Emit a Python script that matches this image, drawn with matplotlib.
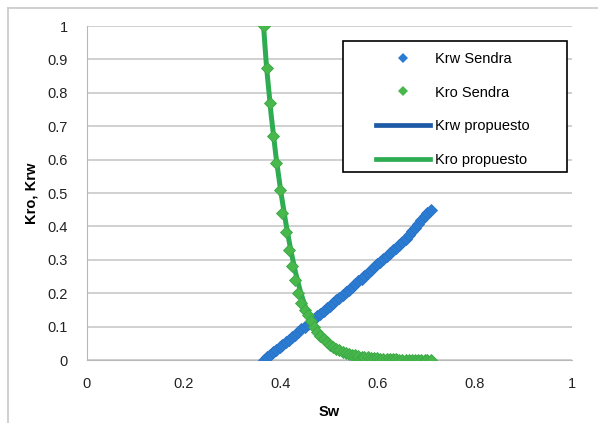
import matplotlib
matplotlib.use("Agg")
import matplotlib.pyplot as plt
from matplotlib.lines import Line2D
from matplotlib.patches import Rectangle

plt.rcParams['font.family'] = ['Liberation Sans', 'DejaVu Sans']

# Sendra data (points)
sw_sendra = [0.364, 0.371, 0.377, 0.384, 0.390, 0.397, 0.403, 0.410, 0.416, 0.423,
             0.429, 0.436, 0.442, 0.449, 0.455, 0.462, 0.468, 0.475, 0.481, 0.488,
             0.494, 0.501, 0.507, 0.514, 0.520, 0.527, 0.533, 0.540, 0.546, 0.553,
             0.559, 0.566, 0.572, 0.579, 0.585, 0.592, 0.598, 0.605, 0.611, 0.618,
             0.624, 0.631, 0.637, 0.644, 0.650, 0.657, 0.663, 0.670, 0.676, 0.683,
             0.689, 0.696, 0.702, 0.709]
krw_sendra = [0.000, 0.008, 0.015, 0.023, 0.030, 0.038, 0.045, 0.053, 0.061, 0.068,
              0.076, 0.084, 0.092, 0.099, 0.107, 0.115, 0.123, 0.131, 0.139, 0.147,
              0.155, 0.163, 0.171, 0.179, 0.187, 0.195, 0.203, 0.211, 0.219, 0.227,
              0.236, 0.244, 0.252, 0.261, 0.269, 0.277, 0.286, 0.294, 0.302, 0.311,
              0.319, 0.328, 0.336, 0.345, 0.353, 0.362, 0.373, 0.385, 0.396, 0.407,
              0.418, 0.430, 0.441, 0.450]
kro_sendra = [1.000, 0.875, 0.770, 0.670, 0.590, 0.510, 0.440, 0.382, 0.328, 0.280,
              0.240, 0.200, 0.170, 0.150, 0.135, 0.117, 0.099, 0.084, 0.073, 0.063,
              0.054, 0.046, 0.040, 0.034, 0.029, 0.025, 0.021, 0.018, 0.016, 0.014,
              0.012, 0.010, 0.009, 0.008, 0.007, 0.006, 0.005, 0.004, 0.003, 0.003,
              0.002, 0.002, 0.002, 0.001, 0.001, 0.001, 0.001, 0.001, 0.000, 0.000,
              0.000, 0.000, 0.000, 0.000]

# Proposed model (lines)
sw_prop = [0.364, 0.370, 0.380, 0.390, 0.400, 0.410, 0.420, 0.430, 0.440, 0.450,
           0.460, 0.470, 0.480, 0.500, 0.520, 0.540, 0.560, 0.580, 0.600, 0.620, 0.656]
krw_prop = [0.000, 0.007, 0.018, 0.030, 0.042, 0.053, 0.065, 0.077, 0.089, 0.101,
            0.113, 0.125, 0.137, 0.162, 0.187, 0.212, 0.236, 0.260, 0.284, 0.309, 0.354]
kro_prop = [1.000, 0.880, 0.730, 0.605, 0.500, 0.410, 0.330, 0.262, 0.205, 0.160,
            0.122, 0.094, 0.073, 0.046, 0.028, 0.018, 0.011, 0.006, 0.003, 0.001, 0.000]

xticks = [0, 0.2, 0.4, 0.6, 0.8, 1]
xticklabels = ['0', '0.2', '0.4', '0.6', '0.8', '1']
yticks = [0, 0.1, 0.2, 0.3, 0.4, 0.5, 0.6, 0.7, 0.8, 0.9, 1]
yticklabels = ['0', '0.1', '0.2', '0.3', '0.4', '0.5', '0.6', '0.7', '0.8', '0.9', '1']

c_krw_pt = '#2a7cd2'
c_kro_pt = '#48b84d'
c_krw_ln = '#1f5aa6'
c_kro_ln = '#2eac52'

W, H = 598, 423
fig = plt.figure(figsize=(W/100, H/100), dpi=100)
ax = fig.add_axes([87/W, 1 - 360/H, (572-87)/W, (360-26)/H])

ax.plot(sw_prop, kro_prop, color=c_kro_ln, lw=3.6, zorder=2, solid_capstyle='butt')
ax.plot(sw_prop, krw_prop, color=c_krw_ln, lw=3.6, zorder=2, solid_capstyle='butt')
ax.plot(sw_sendra, krw_sendra, linestyle='none', marker='D', ms=6, color=c_krw_pt,
        markeredgewidth=0.6, markeredgecolor='#2a72c4', zorder=3)
ax.plot(sw_sendra, kro_sendra, linestyle='none', marker='D', ms=6, color=c_kro_pt,
        markeredgewidth=0.6, markeredgecolor='#3aa845', zorder=3)

ax.set_xlim(0, 1)
ax.set_ylim(0, 1)
ax.set_xticks(xticks)
ax.set_xticklabels(xticklabels)
ax.set_yticks(yticks)
ax.set_yticklabels(yticklabels)
ax.tick_params(axis='both', length=0, labelsize=10.5, colors='#222222')
ax.tick_params(axis='x', pad=12)
ax.tick_params(axis='y', pad=14)
ax.grid(axis='y', color='#c8c8c8', lw=1.2)
ax.set_axisbelow(True)
for s in ['top', 'right']:
    ax.spines[s].set_visible(False)
ax.spines['left'].set_color('#b8b8b8')
ax.spines['bottom'].set_color('#b8b8b8')

ax.set_xlabel('Sw', fontsize=10.5, fontweight='bold', labelpad=10)
ax.set_ylabel('Kro, Krw', fontsize=10.5, fontweight='bold', labelpad=6)

handles = [
    Line2D([], [], linestyle='none', marker='D', ms=5, color=c_krw_pt, markeredgewidth=0),
    Line2D([], [], linestyle='none', marker='D', ms=5, color=c_kro_pt, markeredgewidth=0),
    Line2D([], [], color=c_krw_ln, lw=3.4),
    Line2D([], [], color=c_kro_ln, lw=3.4),
]
labels = ['Krw Sendra', 'Kro Sendra', 'Krw propuesto', 'Kro propuesto']
leg = fig.legend(handles, labels, loc='upper left',
                 bbox_to_anchor=(376/W, 1 - 52/H), bbox_transform=fig.transFigure,
                 fontsize=10.5, frameon=False, handlelength=3.7,
                 labelspacing=1.34, borderpad=0, handletextpad=0.35, borderaxespad=0)

# legend frame
fig.add_artist(Rectangle((343/W, 1 - 172/H), (567-343)/W, (172-41)/H,
                         transform=fig.transFigure, facecolor='white',
                         edgecolor='black', lw=1.2, zorder=4))
leg.set_zorder(5)

# outer chart border (left and top)
fig.add_artist(Line2D([8/W, 8/W], [0, 1 - 8/H], color='#c8c8c8', lw=1.2))
fig.add_artist(Line2D([8/W, 1], [1 - 8/H, 1 - 8/H], color='#c8c8c8', lw=1.2))

fig.savefig('out.png', dpi=100)
